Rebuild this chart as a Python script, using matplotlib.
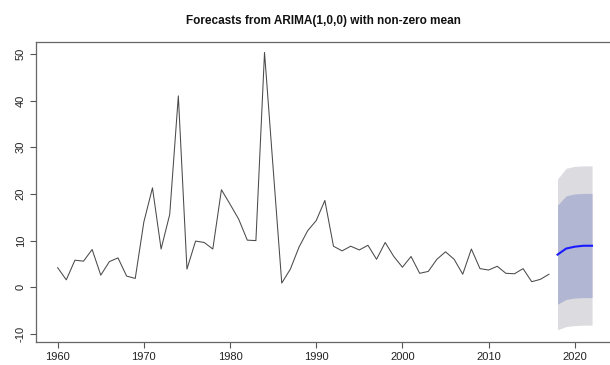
import numpy as np
import matplotlib
matplotlib.use('Agg')
import matplotlib.pyplot as plt

# observed annual series 1960-2017
years = list(range(1960, 2018))
values = [4.2, 1.6, 5.8, 5.6, 8.1, 2.6, 5.5, 6.3, 2.4, 1.9,
          14.0, 21.3, 8.2, 15.6, 41.0, 3.9, 9.9, 9.6, 8.2, 20.9,
          17.8, 14.6, 10.1, 10.0, 50.3, 25.5, 0.9, 3.9, 8.6, 12.1,
          14.3, 18.6, 8.8, 7.8, 8.8, 8.0, 9.0, 6.0, 9.6, 6.6,
          4.3, 6.6, 3.0, 3.4, 6.0, 7.6, 6.0, 2.8, 8.2, 4.0,
          3.7, 4.5, 3.0, 2.9, 4.0, 1.2, 1.7, 2.8]

# forecast 2018-2022
fc_years = [2018, 2019, 2020, 2021, 2022]
fc_mean = [7.0, 8.3, 8.7, 8.9, 8.9]
lo80 = [-3.6, -2.6, -2.3, -2.2, -2.2]
hi80 = [17.6, 19.6, 20.0, 20.1, 20.1]
lo95 = [-9.1, -8.4, -8.2, -8.1, -8.1]
hi95 = [23.2, 25.5, 25.9, 26.0, 26.0]

plt.rcParams['font.family'] = ['Liberation Sans', 'DejaVu Sans']

fig = plt.figure(figsize=(6.1, 3.65), dpi=100)
# right edge of the box falls just outside the picture, as in the reference
ax = fig.add_axes([36.3 / 610, 1 - 341.7 / 365, (613.4 - 36.3) / 610, (341.7 - 41.7) / 365])

ax.fill_between(fc_years, lo95, hi95, color='#DBDBE0', linewidth=0)
ax.fill_between(fc_years, lo80, hi80, color='#B1B6D3', linewidth=0)
ax.plot(years, values, color='#4a4a4a', linewidth=0.75)
ax.plot(fc_years, fc_mean, color='#1a1aff', linewidth=1.5)

ax.set_xlim(1957.52, 2024.48)
ax.set_ylim(-11.65, 52.6)
ax.set_xticks([1960, 1970, 1980, 1990, 2000, 2010, 2020])
ax.set_yticks([-10, 0, 10, 20, 30, 40, 50])
ax.set_yticklabels([-10, 0, 10, 20, 30, 40, 50], rotation=90, va='center')
ax.tick_params(labelsize=8, colors='#555555', length=4, width=0.8, labelcolor='#222222')
for s in ax.spines.values():
    s.set_color('#666666')
    s.set_linewidth(0.9)

fig.text(0.531, 1 - 21 / 365, 'Forecasts from ARIMA(1,0,0) with non-zero mean',
         ha='center', va='center', fontsize=8.5, fontweight='bold', color='#111111')

fig.savefig('out.png', dpi=100)
